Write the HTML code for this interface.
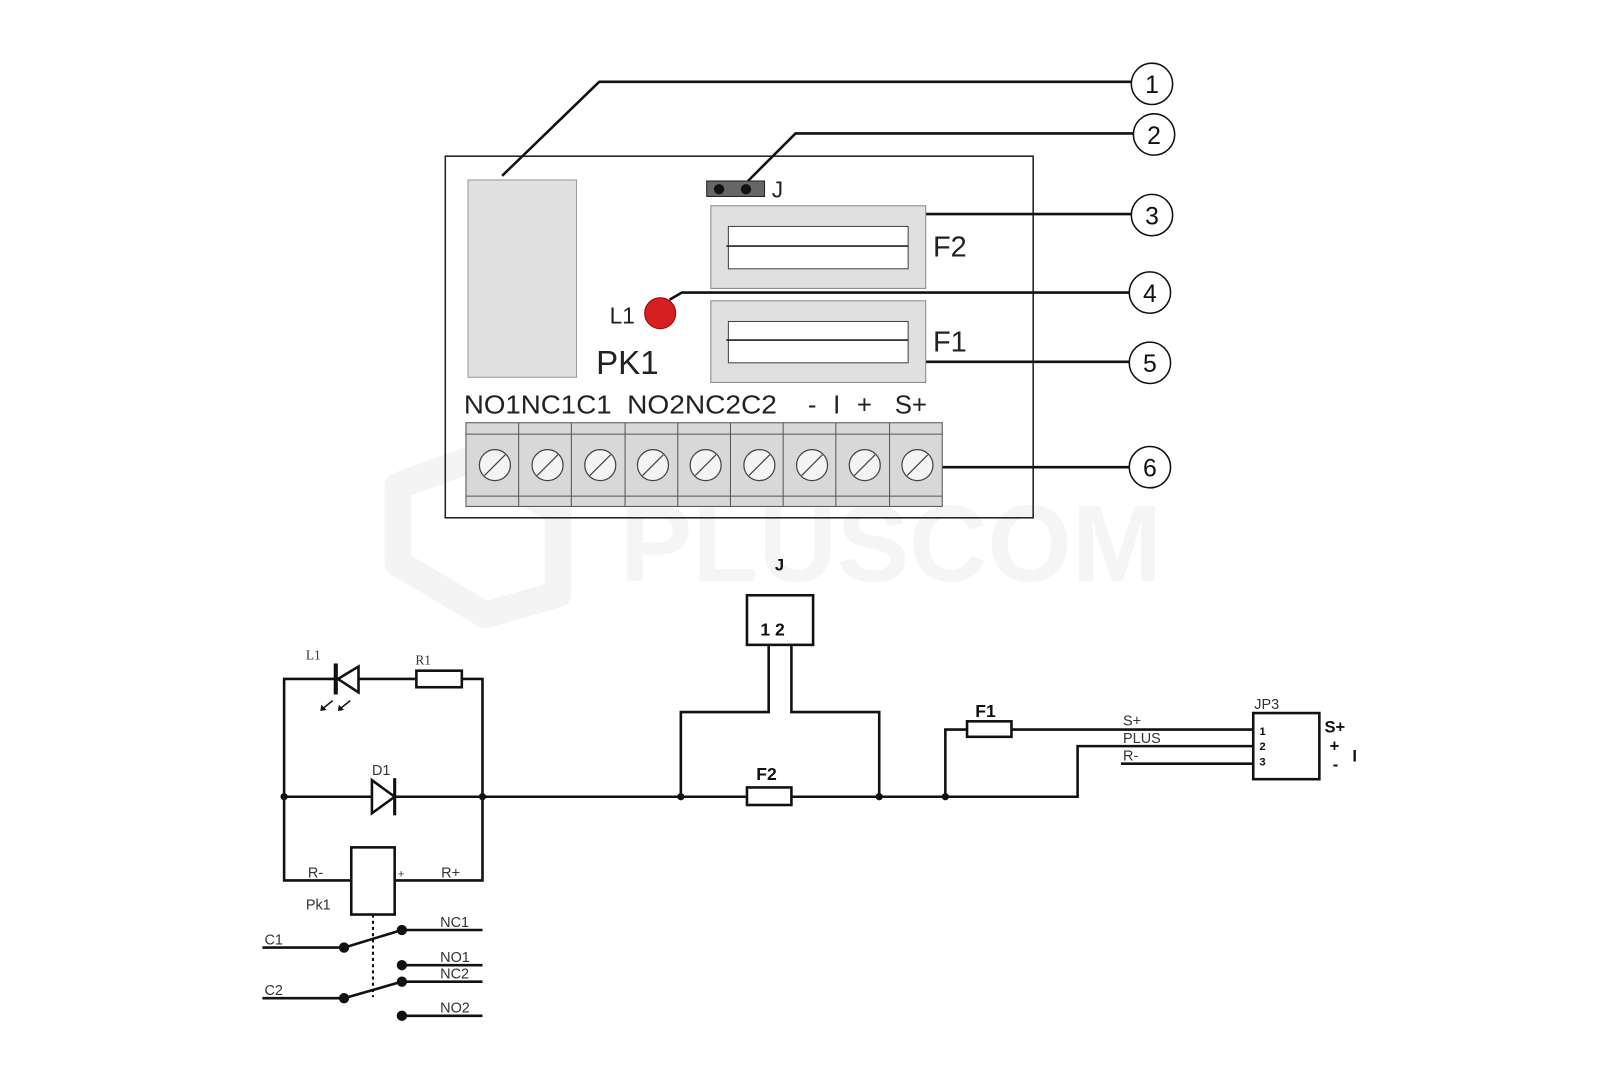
<!DOCTYPE html>
<html><head><meta charset="utf-8"><style>html,body{margin:0;padding:0;background:#fff;}svg{display:block}</style></head>
<body>
<svg width="1620" height="1080" viewBox="0 0 1568 1045" xmlns="http://www.w3.org/2000/svg" font-family="Liberation Sans, sans-serif">
<rect width="1568" height="1045" fill="#fff"/>
<!-- watermark -->
<g fill="none" stroke="#f4f4f4" stroke-width="26" stroke-linejoin="round">
<path d="M455 445 L540 495 L540 575 L470 595 L385 545 L385 470 Z"/>
</g>
<text x="600" y="562" font-size="105" font-weight="bold" fill="#f5f5f5">PLUSCOM</text>
<!-- board -->
<rect x="431" y="151" width="569" height="350" fill="none" stroke="#222" stroke-width="1.5"/>
<rect x="453" y="174" width="105" height="191" fill="#e0e0e0" stroke="#999" stroke-width="1"/>
<g fill="none" stroke="#111" stroke-width="2.5">
<polyline points="486,170 580,79 1095,79"/>
<polyline points="724,175 770,129 1097,129"/>
<line x1="896" y1="207" x2="1095" y2="207"/>
<polyline points="648,290 660,283 1093,283"/>
<line x1="896" y1="350" x2="1093" y2="350"/>
<line x1="912" y1="452" x2="1093" y2="452"/>
</g>
<g fill="#fff" stroke="#111" stroke-width="1.5">
<circle cx="1115" cy="81" r="20"/><circle cx="1117" cy="130" r="20"/><circle cx="1115" cy="208" r="20"/>
<circle cx="1113" cy="283" r="20"/><circle cx="1113" cy="351" r="20"/><circle cx="1113" cy="452" r="20"/>
</g>
<g font-size="24" text-anchor="middle" fill="#111">
<text x="1115" y="90">1</text><text x="1117" y="139">2</text><text x="1115" y="217">3</text>
<text x="1113" y="292">4</text><text x="1113" y="360">5</text><text x="1113" y="461">6</text>
</g>
<rect x="684" y="175" width="56" height="15" fill="#666" stroke="#222"/>
<circle cx="696" cy="183" r="5" fill="#111"/><circle cx="722" cy="183" r="5" fill="#111"/>
<text x="747" y="191" font-size="22" fill="#222">J</text>
<rect x="688" y="199" width="208" height="80" fill="#e0e0e0" stroke="#888"/>
<rect x="705" y="219" width="174" height="41" fill="#fff" stroke="#444"/>
<line x1="703" y1="238" x2="879" y2="238" stroke="#222" stroke-width="1.5"/>
<text x="903" y="248" font-size="28" fill="#222">F2</text>
<rect x="688" y="291" width="208" height="79" fill="#e0e0e0" stroke="#888"/>
<rect x="705" y="311" width="174" height="40" fill="#fff" stroke="#444"/>
<line x1="703" y1="329" x2="879" y2="329" stroke="#222" stroke-width="1.5"/>
<text x="903" y="340" font-size="28" fill="#222">F1</text>
<circle cx="639" cy="303" r="15" fill="#d42020" stroke="#a00" stroke-width="1"/>
<text x="590" y="313" font-size="22" fill="#222">L1</text>
<text x="577" y="362" font-size="32" fill="#222">PK1</text>
<g font-size="25" fill="#222">
<text x="449" y="400" textLength="143" lengthAdjust="spacingAndGlyphs">NO1NC1C1</text>
<text x="607" y="400" textLength="145" lengthAdjust="spacingAndGlyphs">NO2NC2C2</text>
<text x="782" y="400" textLength="62">- I +</text><text x="866" y="400">S+</text>
</g>
<g stroke="#555" stroke-width="1">
<rect x="451" y="409" width="461" height="81" fill="#d8d8d8"/>
<line x1="451" y1="420" x2="912" y2="420"/><line x1="451" y1="480" x2="912" y2="480"/>
<line x1="502" y1="409" x2="502" y2="490"/><line x1="553" y1="409" x2="553" y2="490"/>
<line x1="605" y1="409" x2="605" y2="490"/><line x1="656" y1="409" x2="656" y2="490"/>
<line x1="707" y1="409" x2="707" y2="490"/><line x1="758" y1="409" x2="758" y2="490"/>
<line x1="809" y1="409" x2="809" y2="490"/><line x1="861" y1="409" x2="861" y2="490"/>
</g>
<g fill="#f4f4f4" stroke="#444" stroke-width="1.2">
<circle cx="479" cy="450" r="15"/><circle cx="530" cy="450" r="15"/><circle cx="581" cy="450" r="15"/>
<circle cx="632" cy="450" r="15"/><circle cx="683" cy="450" r="15"/><circle cx="735" cy="450" r="15"/>
<circle cx="786" cy="450" r="15"/><circle cx="837" cy="450" r="15"/><circle cx="888" cy="450" r="15"/>
</g>
<g stroke="#444" stroke-width="1.2">
<line x1="469" y1="460" x2="489" y2="440"/><line x1="520" y1="460" x2="540" y2="440"/><line x1="571" y1="460" x2="591" y2="440"/>
<line x1="622" y1="460" x2="642" y2="440"/><line x1="673" y1="460" x2="693" y2="440"/><line x1="725" y1="460" x2="745" y2="440"/>
<line x1="776" y1="460" x2="796" y2="440"/><line x1="827" y1="460" x2="847" y2="440"/><line x1="878" y1="460" x2="898" y2="440"/>
</g>
<!-- schematic -->
<g fill="none" stroke="#111" stroke-width="2.5">
<rect x="723" y="576" width="64" height="48" fill="#fff"/>
<polyline points="744,624 744,689 659,689 659,771"/>
<polyline points="766,624 766,689 851,689 851,771"/>
<line x1="275" y1="771" x2="723" y2="771"/>
<line x1="766" y1="771" x2="915" y2="771"/>
<polyline points="915,771 1043,771 1043,722 1213,722"/>
<polyline points="915,771 915,706 936,706"/>
<line x1="979" y1="706" x2="1213" y2="706"/>
<line x1="1085" y1="739" x2="1213" y2="739"/>
<rect x="1213" y="690" width="64" height="64"/>
<rect x="723" y="762" width="43" height="17" fill="#fff"/>
<rect x="936" y="698" width="43" height="15" fill="#fff"/>
<polyline points="325,657 275,657 275,852 340,852"/>
<polyline points="347,657 403,657"/>
<polyline points="447,657 467,657 467,852 382,852"/>
<rect x="403" y="649" width="44" height="16"/>
<rect x="340" y="820" width="42" height="65"/>
<polygon points="327,657 347,645 347,670" fill="#fff"/>
<polygon points="360,755 360,787 382,771" fill="#fff"/>
<line x1="254" y1="917" x2="333" y2="917"/><line x1="333" y1="917" x2="389" y2="900"/>
<line x1="389" y1="900" x2="467" y2="900"/>
<line x1="389" y1="934" x2="467" y2="934"/>
<line x1="389" y1="950" x2="467" y2="950"/>
<line x1="254" y1="966" x2="333" y2="966"/><line x1="333" y1="966" x2="389" y2="950"/>
<line x1="389" y1="983" x2="467" y2="983"/>
</g>
<line x1="325" y1="642" x2="325" y2="672" stroke="#111" stroke-width="4"/>
<line x1="382" y1="753" x2="382" y2="789" stroke="#111" stroke-width="3"/>
<line x1="361" y1="885" x2="361" y2="965" stroke="#111" stroke-width="2" stroke-dasharray="3,3"/>
<g stroke="#111" stroke-width="1.5"><line x1="322" y1="678" x2="312" y2="686"/><line x1="339" y1="678" x2="329" y2="686"/></g>
<g fill="#111">
<path d="M310 688 l6 -1 l-5 -5z"/><path d="M327 688 l6 -1 l-5 -5z"/>
<circle cx="275" cy="771" r="3.5"/><circle cx="467" cy="771" r="3.5"/><circle cx="659" cy="771" r="3.5"/>
<circle cx="851" cy="771" r="3.5"/><circle cx="915" cy="771" r="3.5"/>
<circle cx="333" cy="917" r="5"/><circle cx="389" cy="900" r="5"/><circle cx="389" cy="934" r="5"/>
<circle cx="389" cy="950" r="5"/><circle cx="333" cy="966" r="5"/><circle cx="389" cy="983" r="5"/>
</g>
<g font-weight="bold" fill="#111">
<text x="750" y="552" font-size="16">J</text>
<text x="736" y="615" font-size="17">1 2</text>
<text x="732" y="755" font-size="17">F2</text>
<text x="944" y="694" font-size="17">F1</text>
<text x="1282" y="709" font-size="16">S+</text>
<text x="1287" y="727" font-size="16">+</text>
<text x="1290" y="745" font-size="16">-</text>
<text x="1309" y="737" font-size="16">I</text>
<text x="1219" y="711" font-size="11">1</text>
<text x="1219" y="726" font-size="11">2</text>
<text x="1219" y="741" font-size="11">3</text>
</g>
<g font-size="14" fill="#333">
<text x="1087" y="702">S+</text><text x="1087" y="719">PLUS</text><text x="1087" y="736">R-</text>
<text x="1214" y="686">JP3</text>
<text x="360" y="750">D1</text>
<text x="298" y="849">R-</text><text x="385" y="849" font-size="11">+</text><text x="427" y="849">R+</text>
<text x="296" y="880">Pk1</text>
<text x="256" y="914">C1</text><text x="256" y="963">C2</text>
<text x="426" y="897">NC1</text><text x="426" y="931">NO1</text><text x="426" y="947">NC2</text><text x="426" y="980">NO2</text>
</g>
<g font-family="Liberation Serif, serif" font-size="13" fill="#333">
<text x="296" y="638">L1</text><text x="402" y="643">R1</text>
</g>
</svg>
</body></html>
